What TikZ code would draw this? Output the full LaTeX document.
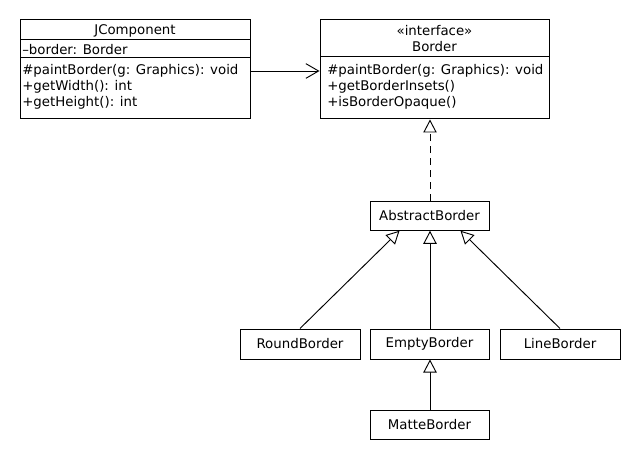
\documentclass[tikz,border=0pt]{standalone}
\usepackage{fontspec}
\setmainfont{DejaVu Sans}
\usetikzlibrary{arrows.meta,calc}
\begin{document}
\begin{tikzpicture}[x=0.75pt,y=-0.75pt,
  font=\fontsize{10pt}{12pt}\selectfont,
  box/.style={draw,line width=0.75pt,inner sep=0,minimum width=#1*0.75pt},
  cls/.style={box=119,minimum height=28.5*0.75pt},
  item/.style={anchor=west,inner sep=0},
  title/.style={inner sep=0},
  divider/.style={line width=0.75pt},
  gen/.style={line width=0.7pt,-{Triangle[open,length=9.75pt,width=10pt,fill=white]}},
  real/.style={gen,dash pattern=on 5.5pt off 3.5pt},
  assoc/.style={line width=0.7pt,-{Straight Barb[length=9.5pt,width=11pt]}}
]
\useasboundingbox (0,0) rectangle (640,460);
% JComponent
\node[box=230,minimum height=99*0.75pt] (jc) at (135,69.5) {};
\node[title] (jct) at (135,31) {JComponent};
\draw[divider] (20,40) -- (250,40);
\draw[divider] (20,58) -- (250,58);
\node[item] (jca) at (22,50) {–border: Border};
\node[item] (jcm1) at (22,71) {\#paintBorder(g: Graphics): void};
\node[item] (jcm2) at (22,87) {+getWidth(): int};
\node[item] (jcm3) at (22,103) {+getHeight(): int};
% Border
\node[box=229,minimum height=99*0.75pt] (bd) at (434.5,69.5) {};
\node[title] (bds) at (434.5,31) {«interface»};
\node[title] (bdt) at (434.5,47) {Border};
\draw[divider] (320,57) -- (549,57);
\node[item] (bdm1) at (327,71) {\#paintBorder(g: Graphics): void};
\node[item] (bdm2) at (327,87) {+getBorderInsets()};
\node[item] (bdm3) at (327,103) {+isBorderOpaque()};
% small classes
\node[cls] (ab) at (429.5,216) {AbstractBorder};
\node[cls,box=120,minimum height=30*0.75pt] (rb) at (300,344) {RoundBorder};
\node[cls,minimum height=30*0.75pt] (eb) at (429.5,344) {EmptyBorder};
\node[cls,box=120,minimum height=30*0.75pt] (lb) at (560,344) {LineBorder};
\node[cls,minimum height=29*0.75pt] (mb) at (429.5,424.5) {MatteBorder};
% connectors
\draw[assoc] (jc.east |- 0,71) -- (bd.west |- 0,71);
\draw[real] (ab.north -| 430,0) -- (bd.south -| 430,0);
\draw[gen] (rb.north) -- ($(ab.south west)+(30,0)$);
\draw[gen] (eb.north -| 430,0) -- (ab.south -| 430,0);
\draw[gen] (lb.north) -- ($(ab.south east)+(-29,0)$);
\draw[gen] (mb.north -| 430,0) -- (eb.south -| 430,0);
\end{tikzpicture}
\end{document}
